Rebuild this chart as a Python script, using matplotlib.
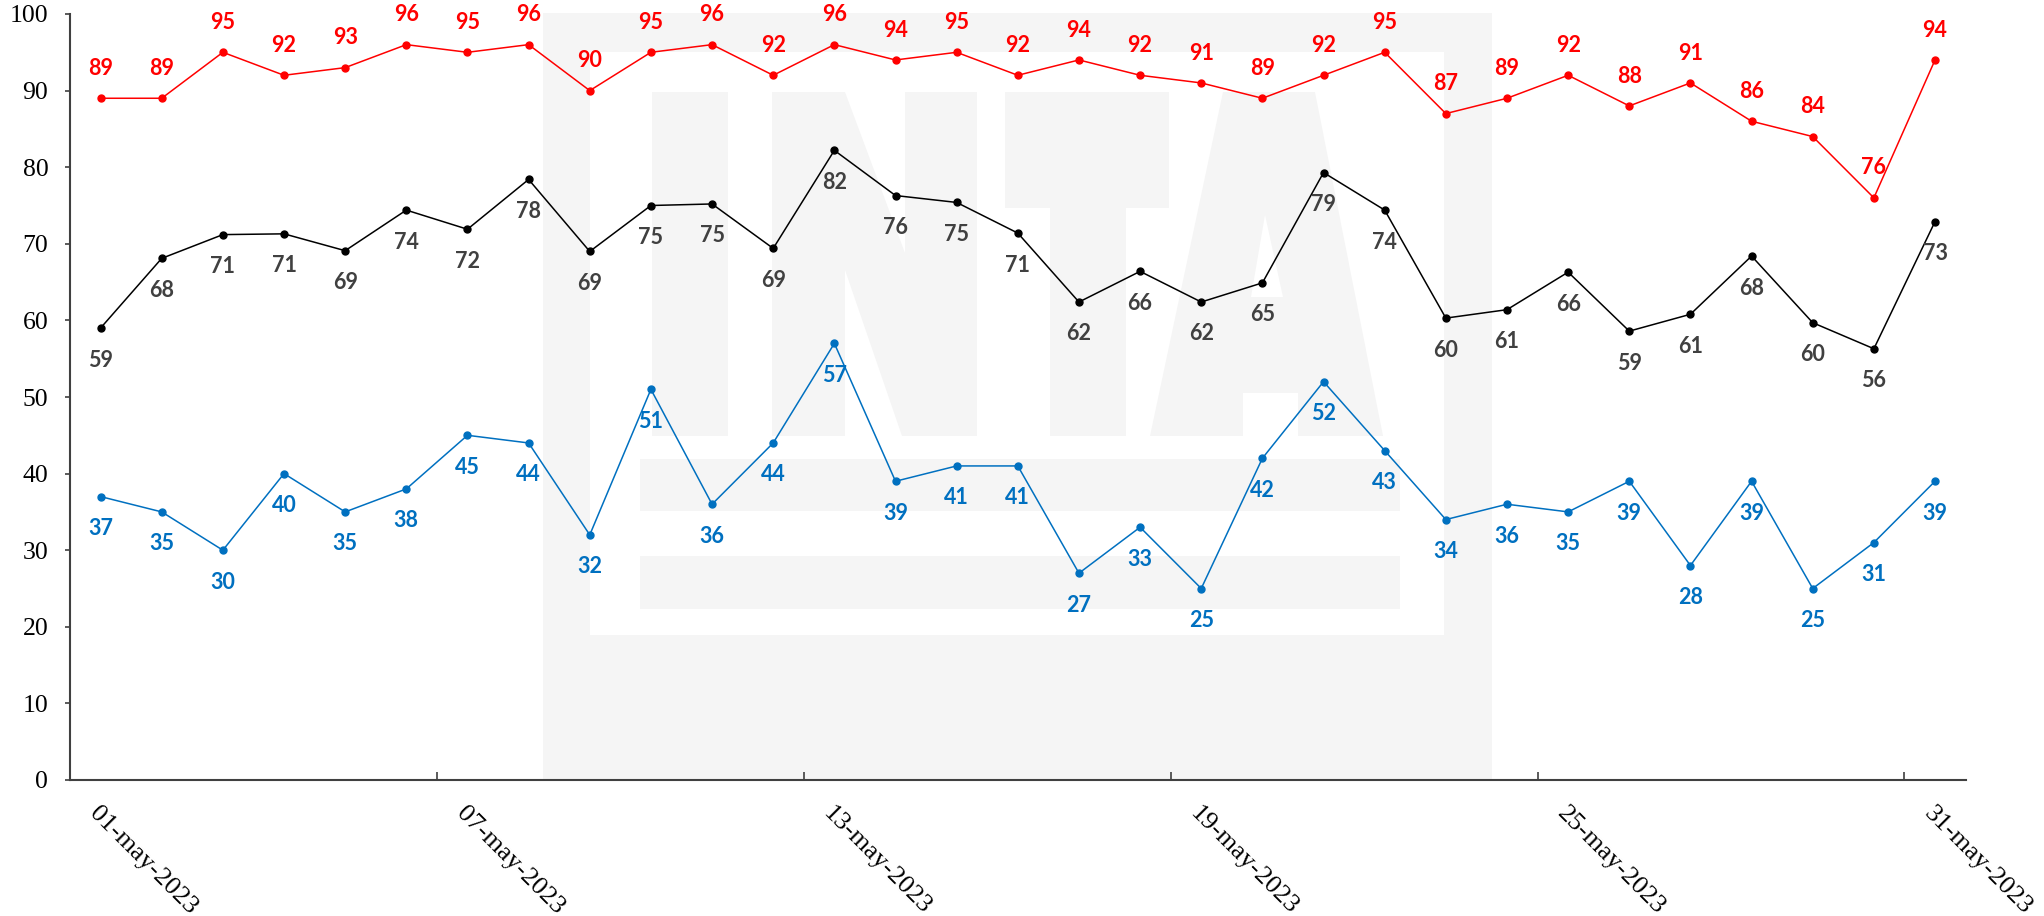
import matplotlib
matplotlib.use("Agg")
import matplotlib.pyplot as plt
from matplotlib.patches import Polygon
from matplotlib.ticker import FixedLocator

# ---------------- data ----------------
dates = ["01-may-2023", "02-may-2023", "03-may-2023", "04-may-2023", "05-may-2023",
         "06-may-2023", "07-may-2023", "08-may-2023", "09-may-2023", "10-may-2023",
         "11-may-2023", "12-may-2023", "13-may-2023", "14-may-2023", "15-may-2023",
         "16-may-2023", "17-may-2023", "18-may-2023", "19-may-2023", "20-may-2023",
         "21-may-2023", "22-may-2023", "23-may-2023", "24-may-2023", "25-may-2023",
         "26-may-2023", "27-may-2023", "28-may-2023", "29-may-2023", "30-may-2023",
         "31-may-2023"]

red_values = [89, 89, 95, 92, 93, 96, 95, 96, 90, 95, 96, 92, 96, 94, 95, 92,
              94, 92, 91, 89, 92, 95, 87, 89, 92, 88, 91, 86, 84, 76, 94]

black_values = [59.0, 68.1, 71.2, 71.3, 69.1, 74.4, 71.9, 78.4, 69.0, 75.0, 75.2,
                69.4, 82.2, 76.3, 75.4, 71.4, 62.4, 66.4, 62.4, 64.9, 79.3, 74.4,
                60.3, 61.4, 66.3, 58.6, 60.8, 68.4, 59.7, 56.3, 72.9]

blue_values = [37, 35, 30, 40, 35, 38, 45, 44, 32, 51, 36, 44, 57, 39, 41, 41,
               27, 33, 25, 42, 52, 43, 34, 36, 35, 39, 28, 39, 25, 31, 39]

label_every = 6
y_ticks = [0, 10, 20, 30, 40, 50, 60, 70, 80, 90, 100]

# ---------------- figure ----------------
W, H = 2044, 916
fig = plt.figure(figsize=(W / 100, H / 100), dpi=100)
ax = fig.add_axes([70 / W, 1 - 780 / H, (1965.6 - 70) / W, (780 - 14) / H])

# ---- watermark (logo-like, light gray) in figure pixel coordinates ----
WM = "#f5f5f5"


def px(pts):
    return [(x / W, 1 - y / H) for x, y in pts]


def add_poly(pts, color):
    p = Polygon(px(pts), closed=True, facecolor=color, edgecolor="none",
                transform=fig.transFigure, zorder=0.5, clip_on=False)
    ax.add_patch(p)


def rect(x0, y0, x1, y1):
    return [(x0, y0), (x1, y0), (x1, y1), (x0, y1)]


add_poly(rect(543, 13, 1492, 780), WM)
add_poly(rect(590, 52, 1444, 635), "white")
add_poly(rect(652, 92, 728, 436), WM)  # I
add_poly([(772, 92), (845, 92), (905, 253), (905, 92), (977, 92), (977, 436),
          (902, 436), (845, 270), (845, 436), (772, 436)], WM)  # N
add_poly(rect(1005, 92, 1169, 208), WM)  # T bar
add_poly(rect(1050, 92, 1126, 436), WM)  # T stem
add_poly([(1150, 436), (1223, 92), (1315, 92), (1383, 436), (1298, 436),
          (1298, 393), (1243, 393), (1243, 436)], WM)  # A
add_poly([(1265, 215), (1283, 297), (1251, 297)], "white")  # A counter
add_poly(rect(640, 459, 1400, 511), WM)
add_poly(rect(640, 556, 1400, 609), WM)

# ---------------- series ----------------
x = list(range(len(dates)))
series = [
    (red_values, "#ff0000", "#ff0000", 21.5),
    (black_values, "#000000", "#404040", -23),
    (blue_values, "#0070c0", "#0070c0", -23),
]
for vals, lc, tc, off in series:
    ax.plot(x, vals, color=lc, lw=1.1, marker="o", ms=5, zorder=3)
    for xi, v in zip(x, vals):
        ax.annotate(f"{v:.0f}", (xi, v), xytext=(0, off), textcoords="offset points",
                    ha="center", va="center", color=tc, fontsize=15.5,
                    fontweight="bold", family="Lato", zorder=4)

# ---------------- axes ----------------
ax.set_xlim(-0.5, len(dates) - 0.5)
ax.set_ylim(0, 100)
ax.set_facecolor("none")
for s in ["top", "right"]:
    ax.spines[s].set_visible(False)
for s in ["left", "bottom"]:
    ax.spines[s].set_color("#404040")
    ax.spines[s].set_linewidth(1.5)
    ax.spines[s].set_zorder(5)

ax.set_yticks(y_ticks)
ax.set_yticklabels([str(t) for t in y_ticks], family="Liberation Serif", fontsize=18.5)
ax.tick_params(axis="y", direction="out", length=3.6, width=1.2, color="#404040", pad=12)

major = x[::label_every]
ax.xaxis.set_major_locator(FixedLocator(major))
ax.set_xticklabels([dates[i] for i in major], rotation=-45, ha="left",
                   rotation_mode="anchor", family="Liberation Serif", fontsize=19)
ax.xaxis.set_minor_locator(FixedLocator([i - 0.5 for i in major[1:]]))
ax.tick_params(axis="x", which="major", length=0, pad=16)
ax.tick_params(axis="x", which="minor", direction="in", length=6, width=1.2, color="#404040")
for lbl in ax.get_xticklabels():
    lbl.set_x(lbl.get_position()[0])

fig.savefig("out.png", dpi=100)
